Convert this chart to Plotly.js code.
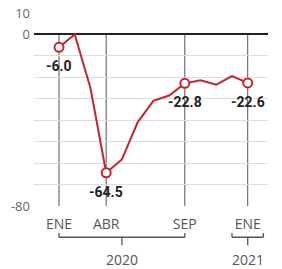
<!DOCTYPE html>
<html>
<head>
<meta charset="utf-8">
<script src="https://cdn.plot.ly/plotly-3.0.1.min.js"></script>
<style>html,body{margin:0;padding:0;background:#fff;}#chart{width:282px;height:269px;}</style>
</head>
<body>
<div id="chart"></div>
<script>
// Month index 0 = ENE 2020 ... 12 = ENE 2021
const months = ['2020-01','2020-02','2020-03','2020-04','2020-05','2020-06','2020-07','2020-08','2020-09','2020-10','2020-11','2020-12','2021-01'];
const monthIdx = [0,1,2,3,4,5,6,7,8,9,10,11,12];
const values = [-6.0, 0.0, -25.0, -64.5, -58.3, -41.0, -31.0, -28.5, -22.8, -21.4, -23.4, -19.4, -22.6];
const highlightIdx = [0, 3, 8, 12];
const xTickVals = [0, 3, 8, 12];
const xTickText = ['ENE', 'ABR', 'SEP', 'ENE'];
const yTickVals = [10, 0, -10, -20, -30, -40, -50, -60, -70, -80];
const yTickText = ['10', '0', '', '', '', '', '', '', '', '-80'];
const yearLabels = ['2020', '2021'];
const yearSpans = [[0, 8, 4], [11, 13, 12]];

const red = '#c1272d';
const hx = highlightIdx.map(i => monthIdx[i]);
const hy = highlightIdx.map(i => values[i]);

const traces = [
  {x: monthIdx, y: values, type: 'scatter', mode: 'lines',
   line: {color: red, width: 2}, hoverinfo: 'skip'},
  {x: hx, y: hy, type: 'scatter', mode: 'markers',
   marker: {color: '#fff', size: 9, line: {color: red, width: 2}}, hoverinfo: 'skip'}
];

const shapes = [];
xTickVals.forEach(v => {
  shapes.push({type: 'line', xref: 'x', yref: 'y', x0: v, x1: v, y0: 0, y1: -80,
    line: {color: '#555', width: 1}, layer: 'below'});
});
const pBar = -0.162, pTop = -0.14, pBot = -0.203;
yearSpans.forEach(s => {
  shapes.push({type: 'line', xref: 'x', yref: 'paper', x0: s[0], x1: s[1], y0: pBar, y1: pBar, line: {color: '#555', width: 1.3}});
  shapes.push({type: 'line', xref: 'x', yref: 'paper', x0: s[0], x1: s[0], y0: pBar, y1: pTop, line: {color: '#555', width: 1.3}});
  shapes.push({type: 'line', xref: 'x', yref: 'paper', x0: s[1], x1: s[1], y0: pBar, y1: pTop, line: {color: '#555', width: 1.3}});
  shapes.push({type: 'line', xref: 'x', yref: 'paper', x0: s[2], x1: s[2], y0: pBar, y1: pBot, line: {color: '#555', width: 1.3}});
});

const annotations = [];
highlightIdx.forEach(i => {
  annotations.push({x: monthIdx[i], y: values[i], xref: 'x', yref: 'y',
    text: values[i].toFixed(1), showarrow: false, yshift: -19,
    font: {family: 'Roboto, Arial, sans-serif', size: 14, color: '#222', weight: 'bold'}});
});
yearSpans.forEach((s, k) => {
  annotations.push({x: s[2], y: -0.275, xref: 'x', yref: 'paper', yanchor: 'middle',
    text: yearLabels[k], showarrow: false,
    font: {family: 'Open Sans, sans-serif', size: 14, color: '#555'}});
});

const layout = {
  width: 282, height: 269,
  margin: {l: 34, r: 14, t: 13, b: 63},
  paper_bgcolor: '#fff', plot_bgcolor: '#fff',
  showlegend: false,
  xaxis: {range: [-1.59, 13.29], tickvals: xTickVals, ticktext: xTickText,
    showgrid: false, zeroline: false, showline: false, ticks: '',
    ticklabelstandoff: 8,
    tickfont: {family: 'Open Sans, sans-serif', size: 14, color: '#555'}},
  yaxis: {range: [-80, 10], tickvals: yTickVals, ticktext: yTickText,
    showgrid: true, gridcolor: '#ddd', gridwidth: 1,
    zeroline: true, zerolinecolor: '#222', zerolinewidth: 2,
    showline: false, ticks: '', ticklabelstandoff: 3,
    tickfont: {family: 'Open Sans, sans-serif', size: 13, color: '#666'}},
  shapes: shapes,
  annotations: annotations
};

Plotly.newPlot('chart', traces, layout, {staticPlot: true, displayModeBar: false});
</script>
</body>
</html>
